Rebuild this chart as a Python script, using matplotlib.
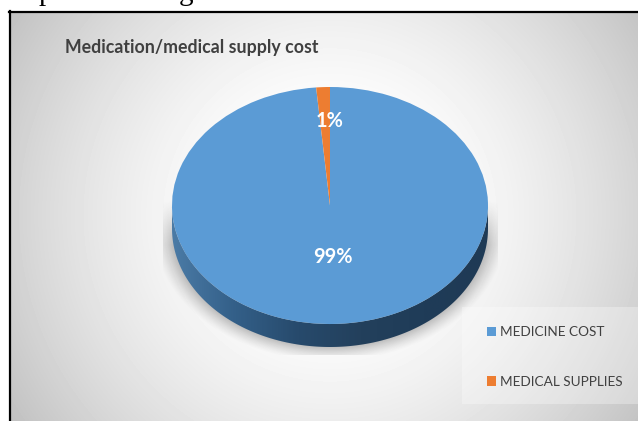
import numpy as np
import matplotlib
matplotlib.use('Agg')
import matplotlib.pyplot as plt
from matplotlib.patches import Rectangle, Polygon

W, H = 638, 421

title = 'Medication/medical supply cost'
categories = ['MEDICINE COST', 'MEDICAL SUPPLIES']
values = [98.6, 1.4]
colors = ['#5b9bd5', '#ed7d31']

plt.rcParams['font.family'] = ['Lato', 'DejaVu Sans']

fig = plt.figure(figsize=(W / 100, H / 100), dpi=100, facecolor='white')

# pixel-space axes for the panel, shadow and pie wall
bg = fig.add_axes([0, 0, 1, 1])
bg.set_xlim(0, W)
bg.set_ylim(H, 0)
bg.axis('off')

cx, cy, rx, ry, depth = 330, 205.5, 158, 118.5, 23
left, top = 10, 12

# radial panel background
yy, xx = np.mgrid[top:H, left:W] + 0.5
d = np.hypot(xx - 330, yy - 215) / 385
shade = 255 - 64 * np.clip((d - 0.18) / 0.82, 0, 1) ** 1.5
bg.imshow(shade, cmap='gray', vmin=0, vmax=255, extent=(left, W, H, top),
          aspect='auto', zorder=1)

# soft drop shadow under the pie, cut off at its box
d2 = np.hypot((xx - cx) / rx, (yy - cy - depth) / ry)
alpha = np.clip((1.12 - d2) / 0.12, 0, 1) ** 1.3 * 0.32
alpha *= np.clip((yy - cy + 5) / 45, 0, 1)
alpha[(xx < 163) | (xx > 498) | (yy > 355)] = 0
rgba = np.zeros(alpha.shape + (4,))
rgba[..., :3] = 0.25
rgba[..., 3] = alpha
bg.imshow(rgba, extent=(left, W, H, top), aspect='auto', zorder=2)

# translucent legend band
bg.add_patch(Rectangle((462, 307), W - 462, 97, facecolor='white', alpha=0.3,
                       edgecolor='none', zorder=3))

# side wall of the pie
t = np.linspace(0, np.pi, 200)
wall_top = np.column_stack([cx + rx * np.cos(t), cy + ry * np.sin(t)])
wall_bottom = wall_top[::-1] + [0, depth]
wall = Polygon(np.vstack([wall_top, wall_bottom]), transform=bg.transData,
               facecolor='none', edgecolor='none')
bg.add_patch(wall)
wall_cmap = matplotlib.colors.LinearSegmentedColormap.from_list(
    'wall', ['#4b7ba6', '#335f88', '#274a6c', '#23405c', '#1f3c58', '#1f3a55'])
im = bg.imshow(np.linspace(0, 1, 256)[None, :], cmap=wall_cmap,
               extent=(cx - rx, cx + rx, cy + ry + depth, cy - 5),
               aspect='auto', zorder=4)
im.set_clip_path(wall)
bg.set_xlim(0, W)
bg.set_ylim(H, 0)

# frame lines
bg.plot([left, left], [top - 1, H], color='black', lw=1.6, zorder=6)
bg.plot([left - 1, W], [top, top], color='black', lw=1.6, zorder=6)

# descenders of the line of text above the panel
bg.text(39, -0.5, 'p', family='Liberation Serif', fontsize=21, color='black',
        va='baseline', zorder=6)
bg.text(179, -0.5, 'g', family='Liberation Serif', fontsize=21, color='black',
        va='baseline', zorder=6)

# pie top, squashed into an ellipse
ax = fig.add_axes([(cx - rx) / W, 1 - (cy + ry) / H, 2 * rx / W, 2 * ry / H])
wedges, texts, pcts = ax.pie(values, colors=colors, startangle=90,
                             counterclock=False, radius=1, autopct='%.0f%%',
                             textprops=dict(color='white', fontweight='bold',
                                            fontsize=14.3))
ax.set_aspect('auto')
ax.set_xlim(-1, 1)
ax.set_ylim(-1, 1)
pcts[0].set_position((0.02, -0.435))
pcts[1].set_position((0.0, 0.715))

bg.text(65, 47, title, fontsize=12.8, fontweight='bold', color='#404040',
        va='center', ha='left', zorder=6)

leg = fig.legend(wedges, categories, loc='upper left',
                 bbox_to_anchor=(487 / W, 1 - 326 / H), frameon=False,
                 fontsize=9.8, labelcolor='#404040', handlelength=0.68,
                 handleheight=0.68, handletextpad=0.3, labelspacing=2.77,
                 borderpad=0, borderaxespad=0)

fig.savefig('out.png', dpi=100)
